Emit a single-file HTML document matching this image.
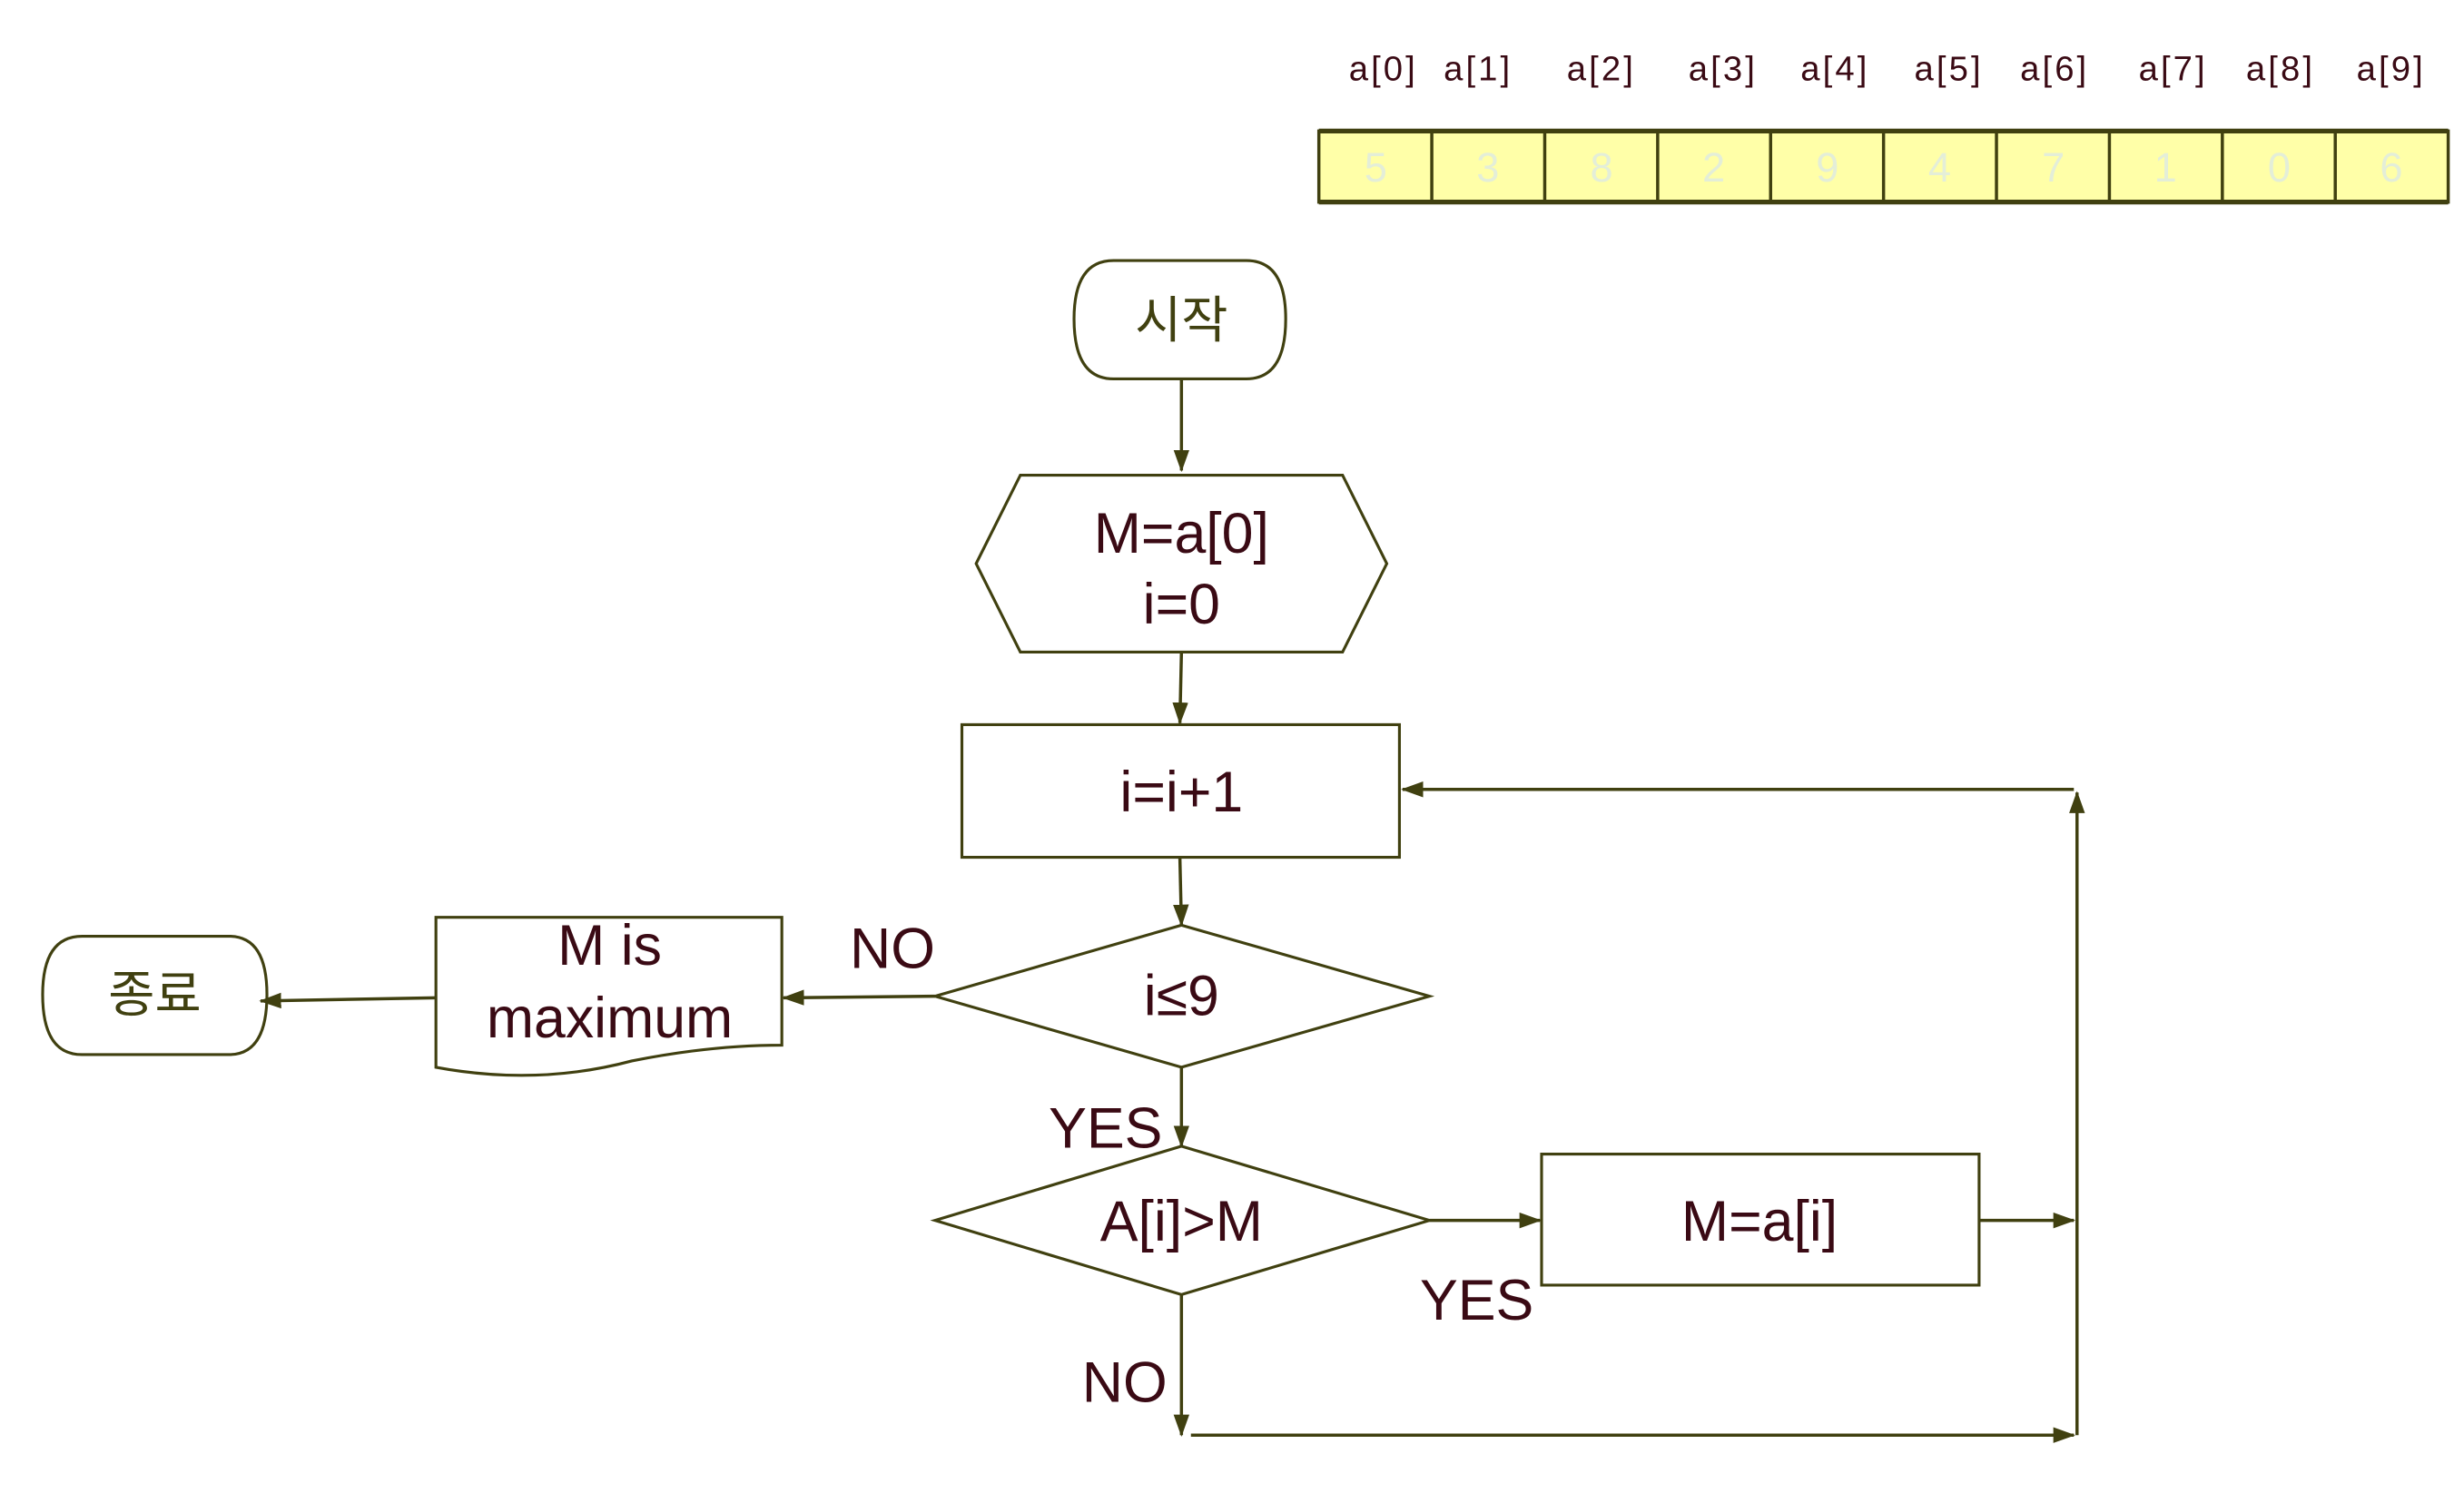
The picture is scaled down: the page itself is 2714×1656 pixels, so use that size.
<!DOCTYPE html>
<html><head><meta charset="utf-8"><style>
html,body{margin:0;padding:0;background:#fff;}
svg{display:block;}
text{font-family:"Liberation Sans","Noto Sans CJK KR",sans-serif;fill:#3a0a14;}
.k{fill:#404010;}
</style></head><body>
<svg width="2714" height="1656" viewBox="0 0 1560 952" preserveAspectRatio="none" xmlns="http://www.w3.org/2000/svg">
<defs>
<marker id="ar" markerWidth="14" markerHeight="10" refX="13" refY="5" orient="auto" markerUnits="userSpaceOnUse">
<path d="M0,0 L14,5 L0,10 Z" fill="#404010"/>
</marker>
</defs>
<g font-size="22" text-anchor="middle" transform="translate(0,0)">
<text x="875" y="51" textLength="42">a[0]</text>
<text x="935" y="51" textLength="42">a[1]</text>
<text x="1013" y="51" textLength="42">a[2]</text>
<text x="1090" y="51" textLength="42">a[3]</text>
<text x="1161" y="51" textLength="42">a[4]</text>
<text x="1233" y="51" textLength="42">a[5]</text>
<text x="1300" y="51" textLength="42">a[6]</text>
<text x="1375" y="51" textLength="42">a[7]</text>
<text x="1443" y="51" textLength="42">a[8]</text>
<text x="1513" y="51" textLength="42">a[9]</text>
</g>
<rect x="835" y="83" width="715" height="45" fill="#ffffa8" stroke="#404010" stroke-width="2"/>
<line x1="835" y1="83" x2="1550" y2="83" stroke="#404010" stroke-width="3"/>
<line x1="835" y1="128" x2="1550" y2="128" stroke="#404010" stroke-width="3"/>
<g stroke="#404010" stroke-width="2">
<line x1="906.5" y1="83" x2="906.5" y2="128"/><line x1="978" y1="83" x2="978" y2="128"/>
<line x1="1049.5" y1="83" x2="1049.5" y2="128"/><line x1="1121" y1="83" x2="1121" y2="128"/>
<line x1="1192.5" y1="83" x2="1192.5" y2="128"/><line x1="1264" y1="83" x2="1264" y2="128"/>
<line x1="1335.5" y1="83" x2="1335.5" y2="128"/><line x1="1407" y1="83" x2="1407" y2="128"/>
<line x1="1478.5" y1="83" x2="1478.5" y2="128"/>
</g>
<g font-size="26" text-anchor="middle" style="fill:#e4eed8">
<text x="871" y="115" style="fill:#e4eed8">5</text><text x="942" y="115" style="fill:#e4eed8">3</text>
<text x="1014" y="115" style="fill:#e4eed8">8</text><text x="1085" y="115" style="fill:#e4eed8">2</text>
<text x="1157" y="115" style="fill:#e4eed8">9</text><text x="1228" y="115" style="fill:#e4eed8">4</text>
<text x="1300" y="115" style="fill:#e4eed8">7</text><text x="1371" y="115" style="fill:#e4eed8">1</text>
<text x="1443" y="115" style="fill:#e4eed8">0</text><text x="1514" y="115" style="fill:#e4eed8">6</text>
</g>

<g fill="#fff" stroke="#404010" stroke-width="1.8">
<path d="M705,165 L789,165 Q814,165 814,202 Q814,240 789,240 L705,240 Q680,240 680,202 Q680,165 705,165 Z"/>
<polygon points="618,357 646,301 850,301 878,357 850,413 646,413"/>
<rect x="609" y="459" width="277" height="84"/>
<polygon points="592,631 748,586 905,631 748,676"/>
<path d="M276,581 L495,581 L495,662 Q450,662 400,672 Q340,688 276,676 Z"/>
<path d="M52,593 L145,593 Q169,593 169,630 Q169,668 145,668 L52,668 Q27,668 27,630 Q27,593 52,593 Z"/>
<polygon points="592,773 748,726 905,773 748,820"/>
<rect x="976" y="731" width="277" height="83"/>
</g>

<g stroke="#404010" stroke-width="2" fill="none" marker-end="url(#ar)">
<line x1="748" y1="240" x2="748" y2="298"/>
<line x1="748" y1="413" x2="747" y2="458"/>
<line x1="747" y1="543" x2="748" y2="586"/>
<line x1="592" y1="631" x2="496" y2="632"/>
<line x1="276" y1="632" x2="165" y2="634"/>
<line x1="748" y1="676" x2="748" y2="726"/>
<line x1="905" y1="773" x2="975" y2="773"/>
<line x1="1253" y1="773" x2="1313" y2="773"/>
<line x1="748" y1="820" x2="748" y2="909"/>
<line x1="754" y1="909" x2="1313" y2="909"/>
<line x1="1315" y1="909" x2="1315" y2="502"/>
<line x1="1313" y1="500" x2="888" y2="500"/>
</g>

<g text-anchor="middle" font-size="36">
<text class="k" x="748" y="214" font-size="32" style="fill:#404010">시작</text>
<text x="748" y="350">M=a[0]</text>
<text x="748" y="395">i=0</text>
<text x="748" y="514">i=i+1</text>
<text x="748" y="643">i≤9</text>
<text x="565" y="613">NO</text>
<text x="386" y="611">M is</text>
<text x="386" y="657">maximum</text>
<text x="98" y="641" font-size="32" style="fill:#404010">종료</text>
<text x="700" y="727">YES</text>
<text x="748" y="786">A[i]&gt;M</text>
<text x="1114" y="786">M=a[i]</text>
<text x="935" y="836">YES</text>
<text x="712" y="888">NO</text>
</g>
</svg>
</body></html>
